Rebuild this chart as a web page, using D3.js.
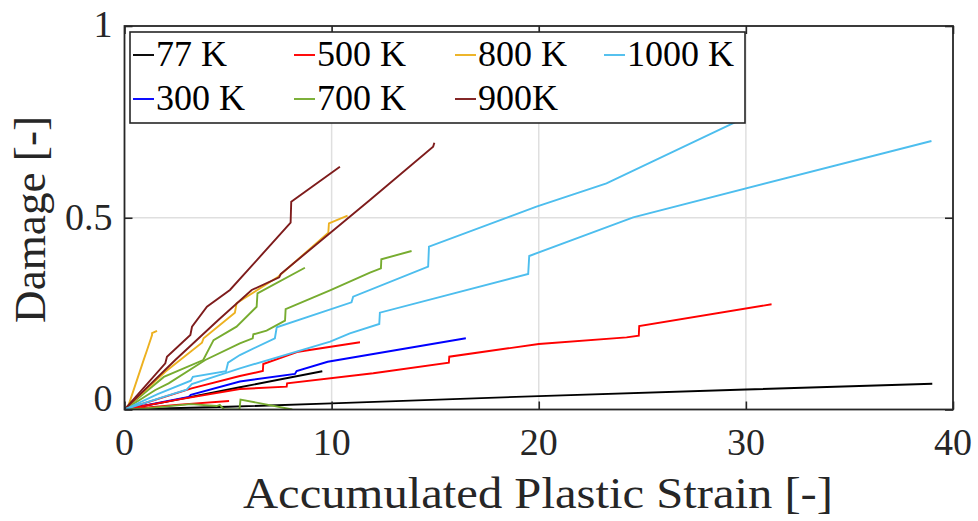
<!DOCTYPE html>
<html>
<head>
<meta charset="utf-8">
<script src="https://cdn.jsdelivr.net/npm/d3@7"></script>
<style>
  html, body { margin: 0; padding: 0; background: #ffffff; }
  svg { display: block; font-family: "Liberation Serif", "Times New Roman", serif; }
</style>
</head>
<body>
<svg id="chart" width="978" height="521"></svg>
<script>
// ---- Damage vs accumulated plastic strain, runs grouped by temperature ----
// Each run is a list of [accumulated plastic strain, damage] pairs.

const run77K_a = [[0,0],[5,0.007],[10,0.016],[20,0.035],[30,0.052],[39,0.067]];
const run77K_b = [[0,0],[2,0.02],[5.57,0.058],[9.55,0.0996]];

const run300K_a = [[0,0],[3.1,0.033],[3.2,0.038],[5.57,0.073],[8.23,0.0926],[8.31,0.1004],
                   [9.81,0.1246],[16.48,0.1857]];

const run500K_a = [[0,0],[2.5,0.025],[5.57,0.0535],[7.83,0.0595],[7.85,0.0683],[12.01,0.0944],
                   [15.66,0.122],[15.68,0.1377],[20.0,0.1708],[24.24,0.188],[24.83,0.1924],
                   [24.85,0.2177],[31.24,0.2743]];
const run500K_b = [[0,0],[3.24,0.0553],[5.57,0.0874],[6.68,0.1004],[6.7,0.1186],[8.39,0.1507],
                   [11.37,0.1752]];
const run500K_c = [[0,0],[2.5,0.012],[5.05,0.022]];

const run700K_a = [[0,0],[1.49,0.0508],[2.13,0.0683],[3.9,0.1291],[5.57,0.1726],[6.19,0.1857],
                   [6.22,0.196],[6.86,0.2055],[7.75,0.2316],[7.78,0.262],[9.95,0.3113],
                   [11.85,0.3567],[12.38,0.368],[12.4,0.3917],[13.86,0.4133]];
const run700K_b = [[0,0],[1.9,0.085],[3.8,0.129],[4.3,0.181],[5.41,0.216],[6.38,0.268],
                   [6.42,0.303],[8.71,0.3697]];
const run700K_c = [[0,0],[1.0,0.003],[3.2,0.014],[4.45,0.009],[4.6,0.012],[4.8,0.0],
                   [5.55,0.0],[5.6,0.026],[8.1,0.0]];

const run800K_a = [[0,0],[0.2,0.012],[0.85,0.117],[0.93,0.13],[1.09,0.155],[1.33,0.194],
                   [1.33,0.199],[1.57,0.205]];
const run800K_b = [[0,0],[1.97,0.0986],[3.74,0.1742],[3.82,0.1857],[5.33,0.2524],[5.41,0.2769],
                   [7.42,0.3463],[9.84,0.461],[9.87,0.4855],[10.77,0.5053]];

const run900K_a = [[0,0],[1.97,0.1205],[2.05,0.1377],[3.18,0.1943],[3.26,0.2159],[3.98,0.268],
                   [5.09,0.3116],[8.02,0.4871],[8.05,0.5419],[10.4,0.6331]];
const run900K_b = [[0,0],[2.45,0.129],[4.53,0.2334],[6.14,0.3116],[7.47,0.3447],[7.54,0.3533],
                   [11.85,0.5463],[14.9,0.6853],[14.96,0.6957]];

const run1000K_a = [[0,0],[1.6,0.04],[3.2,0.075],[3.3,0.085],[4.9,0.1],[5.0,0.122],[5.57,0.142],
                    [7.26,0.1857],[7.35,0.2143],[10.96,0.2795],[11.04,0.2941],[14.66,0.3724],
                    [14.7,0.4245],[19.89,0.5288],[23.27,0.5898],[29.8,0.757]];
const run1000K_b = [[0,0],[2.0,0.035],[3.0,0.052],[3.25,0.066],[5.57,0.1074],[9.93,0.1768],
                    [10.88,0.1987],[12.3,0.223],[12.33,0.2524],[19.49,0.3533],[19.54,0.4003],
                    [24.56,0.5012],[38.96,0.7001]];

// Legend labels, in plotting order
const temperatureLabels = ["77 K", "300 K", "500 K", "700 K", "800 K", "900K", "1000 K"];
const runsByTemperature = [
  [run77K_a, run77K_b],
  [run300K_a],
  [run500K_a, run500K_b, run500K_c],
  [run700K_a, run700K_b, run700K_c],
  [run800K_a, run800K_b],
  [run900K_a, run900K_b],
  [run1000K_a, run1000K_b]
];

// Axis ticks
const xTickValues = [0, 10, 20, 30, 40];
const yTickValues = [0, 0.5, 1];
const yTickLabels = ["0", "0.5", "1"];

// ---- styling ----
const lineColors = ["#000000", "#0000ff", "#ff0000", "#77ac30", "#edb120", "#7e1c1c", "#4dbeee"];
const axisColor = "#262626";
const gridColor = "#dfdfdf";

const svg = d3.select("#chart");
const plot = { left: 124.5, right: 953, top: 26, bottom: 409.5 };

const x = d3.scaleLinear().domain([0, 40]).range([plot.left, plot.right]);
const y = d3.scaleLinear().domain([0, 1]).range([plot.bottom, plot.top]);

// grid lines
const grid = svg.append("g");
grid.selectAll("line.gx").data(xTickValues.slice(1, -1)).join("line")
  .attr("x1", d => x(d)).attr("x2", d => x(d))
  .attr("y1", plot.top).attr("y2", plot.bottom)
  .attr("stroke", gridColor).attr("stroke-width", 1.5);
grid.selectAll("line.gy").data(yTickValues.slice(1, -1)).join("line")
  .attr("y1", d => y(d)).attr("y2", d => y(d))
  .attr("x1", plot.left).attr("x2", plot.right)
  .attr("stroke", gridColor).attr("stroke-width", 1.5);

// curves
svg.append("defs").append("clipPath").attr("id", "plotClip")
  .append("rect").attr("x", plot.left).attr("y", plot.top)
  .attr("width", plot.right - plot.left).attr("height", plot.bottom - plot.top);

const line = d3.line().x(d => x(d[0])).y(d => y(d[1]));
const curves = svg.append("g").attr("clip-path", "url(#plotClip)");
runsByTemperature.forEach((runs, i) => {
  runs.forEach(run => {
    curves.append("path")
      .attr("d", line(run))
      .attr("fill", "none")
      .attr("stroke", lineColors[i])
      .attr("stroke-width", 1.9)
      .attr("stroke-linejoin", "miter")
      .attr("stroke-miterlimit", 2);
  });
});

// axes with inward ticks on all four sides
const tickLen = 8;
function styleAxis(g) {
  g.select(".domain").remove();
  g.selectAll(".tick line").attr("stroke", axisColor).attr("stroke-width", 1.6);
  g.selectAll(".tick text").remove();
}
svg.append("g").attr("transform", `translate(0,${plot.bottom})`)
  .call(d3.axisBottom(x).tickValues(xTickValues).tickSize(-tickLen)).call(styleAxis);
svg.append("g").attr("transform", `translate(0,${plot.top})`)
  .call(d3.axisTop(x).tickValues(xTickValues).tickSize(-tickLen)).call(styleAxis);
svg.append("g").attr("transform", `translate(${plot.left},0)`)
  .call(d3.axisLeft(y).tickValues(yTickValues).tickSize(-tickLen)).call(styleAxis);
svg.append("g").attr("transform", `translate(${plot.right},0)`)
  .call(d3.axisRight(y).tickValues(yTickValues).tickSize(-tickLen)).call(styleAxis);

// axes box
svg.append("rect")
  .attr("x", plot.left).attr("y", plot.top)
  .attr("width", plot.right - plot.left).attr("height", plot.bottom - plot.top)
  .attr("fill", "none").attr("stroke", axisColor).attr("stroke-width", 1.8);

// tick labels
const tickFont = 38;
svg.append("g").selectAll("text").data(xTickValues).join("text")
  .attr("x", d => x(d)).attr("y", 455)
  .attr("text-anchor", "middle").attr("font-size", tickFont).attr("fill", axisColor)
  .text(d => d);
const yLabelBaselineShift = [1.5, 12.5, 11];
svg.append("g").selectAll("text").data(yTickValues).join("text")
  .attr("x", 112.5).attr("y", (d, i) => y(d) + yLabelBaselineShift[i])
  .attr("text-anchor", "end").attr("font-size", tickFont).attr("fill", axisColor)
  .text((d, i) => yTickLabels[i]);

// axis titles
svg.append("text")
  .attr("x", 538).attr("y", 508)
  .attr("text-anchor", "middle").attr("font-size", 44).attr("fill", axisColor)
  .attr("textLength", 590).attr("lengthAdjust", "spacingAndGlyphs")
  .text("Accumulated Plastic Strain [-]");
svg.append("text")
  .attr("transform", "translate(45,219.5) rotate(-90)")
  .attr("text-anchor", "middle").attr("font-size", 45).attr("fill", axisColor)
  .attr("textLength", 207).attr("lengthAdjust", "spacingAndGlyphs")
  .text("Damage [-]");

// legend (4 columns, filled column by column in two rows)
const legendBox = { x: 130, y: 32, w: 615, h: 91 };
const legendColX = [133, 294, 455, 604];
const legendRowY = [55, 99];
const legend = svg.append("g");
legend.append("rect")
  .attr("x", legendBox.x).attr("y", legendBox.y)
  .attr("width", legendBox.w).attr("height", legendBox.h)
  .attr("fill", "#ffffff").attr("stroke", axisColor).attr("stroke-width", 1.6);
temperatureLabels.forEach((label, i) => {
  const cx = legendColX[Math.floor(i / 2)];
  const cy = legendRowY[i % 2];
  legend.append("line")
    .attr("x1", cx).attr("x2", cx + 21).attr("y1", cy).attr("y2", cy)
    .attr("stroke", lineColors[i]).attr("stroke-width", 1.9);
  legend.append("text")
    .attr("x", cx + 23).attr("y", cy + 10.5)
    .attr("font-size", 36).attr("fill", "#000000")
    .text(label);
});
</script>
</body>
</html>
